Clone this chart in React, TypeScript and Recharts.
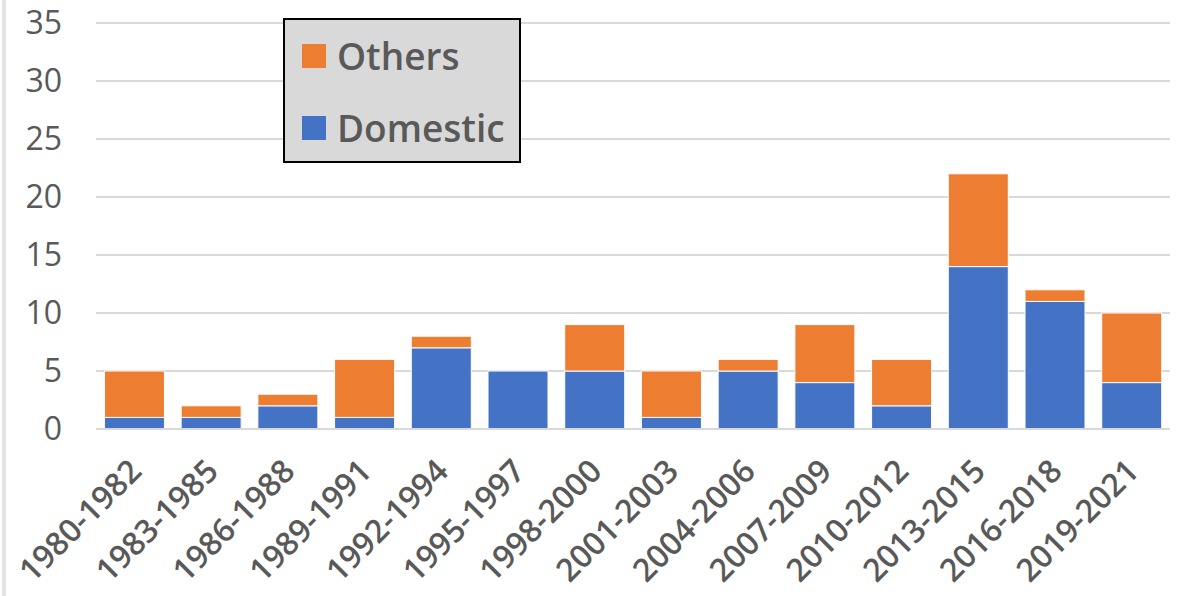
import React from "react";
import { BarChart, Bar, XAxis, YAxis, CartesianGrid } from "recharts";

const periods = [
  "1980-1982",
  "1983-1985",
  "1986-1988",
  "1989-1991",
  "1992-1994",
  "1995-1997",
  "1998-2000",
  "2001-2003",
  "2004-2006",
  "2007-2009",
  "2010-2012",
  "2013-2015",
  "2016-2018",
  "2019-2021",
];
const domestic = [1, 1, 2, 1, 7, 5, 5, 1, 5, 4, 2, 14, 11, 4];
const others = [4, 1, 1, 5, 1, 0, 4, 4, 1, 5, 4, 8, 1, 6];
const yTicks = [0, 5, 10, 15, 20, 25, 30, 35];

const BLUE = "#4472C4";
const ORANGE = "#ED7D31";
const TEXT = "#595959";
const GRID = "#D9D9D9";
const FONT = "'Open Sans', sans-serif";

const data = periods.map((p, i) => ({
  period: p,
  Domestic: domestic[i],
  Others: others[i],
}));

const XTick = ({ x, y, payload }: any) => (
  <g transform={`translate(${x + 9},${y + 44})`}>
    <text
      textAnchor="end"
      transform="rotate(-45)"
      fill={TEXT}
      fontSize={32}
      fontWeight={600}
      fontFamily={FONT}
    >
      {payload.value}
    </text>
  </g>
);

const YTick = ({ x, y, payload }: any) => (
  <text
    x={x - 34}
    y={y}
    dy="0.35em"
    textAnchor="end"
    fill={TEXT}
    fontSize={32}
    fontFamily={FONT}
  >
    {payload.value}
  </text>
);

// legend order as in the source: Others on top
const legendItems = [
  { name: "Others", color: ORANGE },
  { name: "Domestic", color: BLUE },
];

const LegendBox = () => (
  <div
    style={{
      position: "absolute",
      left: 283,
      top: 18,
      width: 234,
      height: 141,
      background: GRID,
      border: "2px solid #000",
      fontFamily: FONT,
    }}
  >
    {legendItems.map((it, i) => (
      <div
        key={it.name}
        style={{
          position: "absolute",
          left: 17,
          top: 17 + i * 72,
          display: "flex",
          alignItems: "center",
          height: 38,
        }}
      >
        <span
          style={{
            display: "inline-block",
            width: 24,
            height: 24,
            background: it.color,
            marginRight: 11,
          }}
        />
        <span
          style={{
            fontSize: 37,
            fontWeight: 600,
            color: TEXT,
            lineHeight: "38px",
          }}
        >
          {it.name}
        </span>
      </div>
    ))}
  </div>
);

export default function App() {
  return (
    <div
      style={{
        position: "absolute",
        left: 0,
        top: 0,
        width: 1181,
        height: 596,
        background: "#fff",
        overflow: "hidden",
      }}
    >
      <div
        style={{
          position: "absolute",
          left: 2,
          top: 0,
          width: 4,
          height: 596,
          background: "#E4E4E4",
        }}
      />
      <BarChart
        width={1181}
        height={596}
        data={data}
        margin={{ top: 23, right: 11, bottom: 0, left: 0 }}
        barCategoryGap="11%"
      >
        <CartesianGrid vertical={false} stroke={GRID} strokeWidth={2} />
        <XAxis
          dataKey="period"
          height={167}
          interval={0}
          tickLine={false}
          tickSize={0}
          tickMargin={0}
          axisLine={{ stroke: GRID, strokeWidth: 2 }}
          tick={<XTick />}
        />
        <YAxis
          width={96}
          domain={[0, 35]}
          ticks={yTicks}
          axisLine={false}
          tickLine={false}
          tickSize={0}
          tickMargin={0}
          tick={<YTick />}
        />
        <Bar
          dataKey="Domestic"
          stackId="a"
          fill={BLUE}
          stroke="#fff"
          strokeWidth={1}
          isAnimationActive={false}
        />
        <Bar
          dataKey="Others"
          stackId="a"
          fill={ORANGE}
          stroke="#fff"
          strokeWidth={1}
          isAnimationActive={false}
        />
      </BarChart>
      <LegendBox />
    </div>
  );
}
